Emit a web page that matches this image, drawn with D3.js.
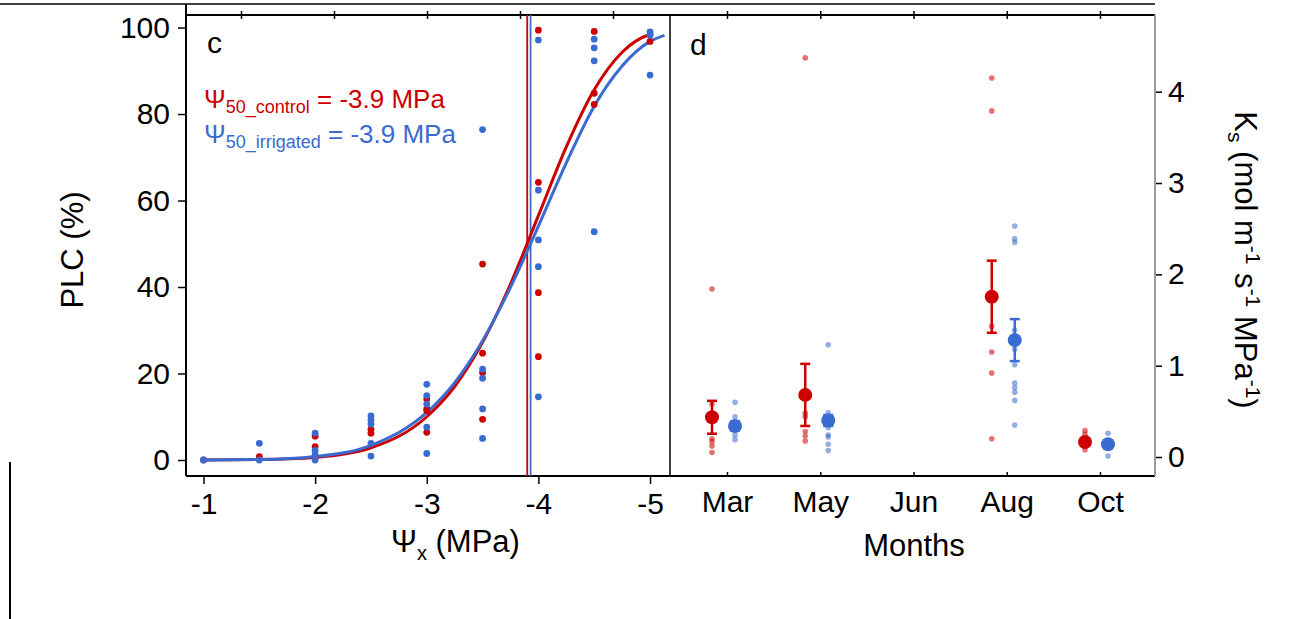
<!DOCTYPE html>
<html>
<head>
<meta charset="utf-8">
<script src="https://cdn.jsdelivr.net/npm/d3@7"></script>
<style>
  body { margin: 0; background: #fff; }
  text { font-family: "Liberation Sans", Arial, sans-serif; }
</style>
</head>
<body>
<script>
// ---- Panel c data: PLC (%) vs xylem water potential (MPa)
var controlPoints = [
    [-1, 0], [-1.5, 0.8],
    [-2, 5.5], [-2, 3.1], [-2, 0.8],
    [-2.5, 7.1], [-2.5, 6.2],
    [-3, 14.1], [-3, 11.8], [-3, 11.4], [-3, 6.4],
    [-3.5, 45.3], [-3.5, 24.7], [-3.5, 20.2], [-3.5, 9.4],
    [-4, 99.4], [-4, 64.2], [-4, 38.7], [-4, 23.9],
    [-4.5, 99.1], [-4.5, 84.8], [-4.5, 82.2],
    [-5, 96.8]
];
var irrigatedPoints = [
    [-1, 0], [-1.5, 3.85], [-1.5, 0],
    [-2, 6.2], [-2, 2.2], [-2, 1.2], [-2, 0],
    [-2.5, 10.2], [-2.5, 9.2], [-2.5, 8.3], [-2.5, 3.85], [-2.5, 0.9],
    [-3, 17.5], [-3, 14.9], [-3, 12.9], [-3, 7.6], [-3, 1.5],
    [-3.5, 76.4], [-3.5, 21.0], [-3.5, 18.9], [-3.5, 11.8], [-3.5, 5.0],
    [-4, 97.1], [-4, 62.4], [-4, 50.9], [-4, 44.7], [-4, 14.6],
    [-4.5, 97.3], [-4.5, 95.3], [-4.5, 92.3], [-4.5, 52.8],
    [-5, 99.0], [-5, 98.2], [-5, 89.0]
];
// fitted curves
var controlFit = [
    [-1, 0], [-1.5, 0.1], [-2, 0.6], [-2.5, 2.8], [-3, 10.0], [-3.25, 17.0],
    [-3.5, 27.2], [-3.75, 40.7], [-4, 56.5], [-4.25, 72.4], [-4.5, 85.6],
    [-4.75, 94.3], [-5, 98.4], [-5.03, 98.6]
];
var irrigatedFit = [
    [-1, 0], [-1.5, 0.1], [-2, 0.8], [-2.5, 3.4], [-3, 11.0], [-3.25, 17.9],
    [-3.5, 27.6], [-3.75, 39.9], [-4, 54.1], [-4.25, 68.7], [-4.5, 81.8],
    [-4.75, 91.1], [-5, 96.8], [-5.13, 98.2]
];
var p50Control = -3.9;
var p50Irrigated = -3.93;
var psiTicks = [-1, -2, -3, -4, -5];
var plcTicks = [0, 20, 40, 60, 80, 100];

// ---- Panel d data: Ks by month
var months = ['Mar', 'May', 'Jun', 'Aug', 'Oct'];
var ksControlPoints = [
    [1.84, 0.58, 0.2, 0.17, 0.12, 0.05],
    [4.37, 0.48, 0.44, 0.28, 0.23, 0.175],
    [],
    [4.15, 3.79, 1.43, 1.15, 0.92, 0.20],
    [0.29, 0.25, 0.12, 0.08]
];
var ksControlMean = [0.435, 0.68, null, 1.755, 0.165];
var ksControlSe = [0.18, 0.34, null, 0.395, 0.03];
var ksIrrigatedPoints = [
    [0.60, 0.44, 0.38, 0.30, 0.24, 0.19],
    [1.23, 0.485, 0.32, 0.24, 0.22, 0.14, 0.07],
    [],
    [2.53, 2.39, 2.35, 1.39, 1.18, 1.01, 0.81, 0.76, 0.71, 0.62, 0.35],
    [0.26, 0.15, 0.12, 0.01]
];
var ksIrrigatedMean = [0.34, 0.40, null, 1.28, 0.14];
var ksIrrigatedSe = [0.05, 0.06, null, 0.23, 0.04];
var ksTicks = [0, 1, 2, 3, 4];

function makeChart() {

    var red = '#cc0000';
    var blue = '#3a6bd0';
    var font = '"Liberation Sans", Arial, sans-serif';

    var svg = d3.select('body')
        .append('svg')
        .attr('width', 1301)
        .attr('height', 619);

    // layout
    var plotTop = 15, plotBottom = 476;
    var cLeft = 186, cRight = 670, dRight = 1155;

    // scales
    var xPsi = d3.scaleLinear().domain([-0.843, -5.179]).range([cLeft, cRight]);
    var yPlc = d3.scaleLinear().domain([-3.7, 102.9]).range([plotBottom, plotTop]);
    var xMonth = d3.scalePoint().domain(months).range([727, 1100]);
    var xMonthTop = d3.scalePoint().domain(months).range([241, 613]);
    var yKs = d3.scaleLinear().domain([-0.208, 4.84]).range([plotBottom, plotTop]);

    function styleAxis(g, size) {
        g.attr('font-family', font).attr('font-size', size);
        g.select('.domain').remove();
        g.selectAll('.tick line').attr('stroke', '#000').attr('stroke-width', 1.5);
        g.selectAll('.tick text').attr('fill', '#000');
    }

    function frameLine(x1, y1, x2, y2, color, w) {
        svg.append('line')
            .attr('x1', x1).attr('y1', y1).attr('x2', x2).attr('y2', y2)
            .attr('stroke', color).attr('stroke-width', w);
    }

    // bits of the neighbouring panels
    frameLine(0, 4, dRight, 4, '#000', 1.5);
    frameLine(10, 462, 10, 619, '#000', 2);

    // top ticks belong to the panels above
    svg.append('g').attr('transform', 'translate(0,11)')
        .call(d3.axisBottom(xMonthTop).tickSize(8).tickFormat(''))
        .call(styleAxis, 10);
    svg.append('g').attr('transform', 'translate(0,11)')
        .call(d3.axisBottom(xMonth).tickSize(8).tickFormat(''))
        .call(styleAxis, 10);

    // ---- panel c axes
    svg.append('g')
        .attr('transform', `translate(${cLeft},0)`)
        .call(d3.axisLeft(yPlc).tickValues(plcTicks).tickSize(8).tickPadding(8))
        .call(styleAxis, 30);

    svg.append('g')
        .attr('transform', `translate(0,${plotBottom})`)
        .call(d3.axisBottom(xPsi).tickValues(psiTicks).tickSize(8).tickPadding(9)
            .tickFormat(d => String(d)))
        .call(styleAxis, 30);

    // ---- panel d axes
    svg.append('g')
        .attr('transform', `translate(0,${plotBottom})`)
        .call(d3.axisBottom(xMonth).tickSize(-4).tickPadding(15))
        .call(styleAxis, 30);

    svg.append('g')
        .attr('transform', `translate(${dRight},0)`)
        .call(d3.axisRight(yKs).tickValues(ksTicks).tickSize(7).tickPadding(6)
            .tickFormat(d => String(d)))
        .call(styleAxis, 30);

    frameLine(cLeft, plotTop, dRight, plotTop, '#000', 2);
    frameLine(cLeft, 4, cLeft, plotBottom, '#000', 2);
    frameLine(cLeft, plotBottom, dRight, plotBottom, '#000', 2);
    frameLine(cRight, plotTop, cRight, plotBottom, '#000', 1.5);
    frameLine(dRight, plotTop, dRight, plotBottom, '#9a9a9a', 2);

    // ---- panel c: P50 lines
    svg.append('line')
        .attr('x1', xPsi(p50Control)).attr('x2', xPsi(p50Control))
        .attr('y1', plotTop).attr('y2', plotBottom)
        .attr('stroke', red).attr('stroke-width', 1.8);
    svg.append('line')
        .attr('x1', xPsi(p50Irrigated)).attr('x2', xPsi(p50Irrigated))
        .attr('y1', plotTop).attr('y2', plotBottom)
        .attr('stroke', blue).attr('stroke-width', 1.8);

    // fitted curves
    var fitLine = d3.line()
        .x(d => xPsi(d[0]))
        .y(d => yPlc(d[1]))
        .curve(d3.curveMonotoneX);

    svg.append('path').datum(controlFit)
        .attr('d', fitLine).attr('fill', 'none')
        .attr('stroke', red).attr('stroke-width', 3);
    svg.append('path').datum(irrigatedFit)
        .attr('d', fitLine).attr('fill', 'none')
        .attr('stroke', blue).attr('stroke-width', 3);

    // raw points
    svg.append('g').selectAll('circle')
        .data(controlPoints)
        .enter()
        .append('circle')
        .attr('cx', d => xPsi(d[0]))
        .attr('cy', d => yPlc(d[1]))
        .attr('r', 3.4)
        .attr('fill', red);

    svg.append('g').selectAll('circle')
        .data(irrigatedPoints)
        .enter()
        .append('circle')
        .attr('cx', d => xPsi(d[0]))
        .attr('cy', d => yPlc(d[1]))
        .attr('r', 3.4)
        .attr('fill', blue);

    // panel letters and P50 annotations
    svg.append('text').attr('x', 207).attr('y', 53)
        .attr('font-size', 30).attr('fill', '#000').text('c');
    svg.append('text').attr('x', 690).attr('y', 55)
        .attr('font-size', 30).attr('fill', '#000').text('d');

    function p50Label(y, color, sub, value) {
        var t = svg.append('text')
            .attr('x', 204).attr('y', y)
            .attr('font-size', 26).attr('fill', color);
        t.append('tspan').text('Ψ');
        t.append('tspan').attr('font-size', 18).attr('dy', 5).text(sub);
        t.append('tspan').attr('dy', -5).text(' = ' + value.toFixed(1) + ' MPa');
    }
    p50Label(108, red, '50_control', p50Control);
    p50Label(143, blue, '50_irrigated', p50Irrigated);

    // axis titles
    var psiTitle = svg.append('text')
        .attr('x', 391).attr('y', 552)
        .attr('font-size', 31).attr('fill', '#000');
    psiTitle.append('tspan').text('Ψ');
    psiTitle.append('tspan').attr('font-size', 20).attr('dy', 8).text('x');
    psiTitle.append('tspan').attr('dy', -8).text(' (MPa)');

    svg.append('text')
        .attr('transform', 'translate(83,250) rotate(-90)')
        .attr('text-anchor', 'middle')
        .attr('font-size', 31).attr('fill', '#000')
        .text('PLC (%)');

    svg.append('text')
        .attr('x', 914).attr('y', 556)
        .attr('text-anchor', 'middle')
        .attr('font-size', 31).attr('fill', '#000')
        .text('Months');

    var ksTitle = svg.append('text')
        .attr('transform', 'translate(1235,260) rotate(90)')
        .attr('text-anchor', 'middle')
        .attr('font-size', 31).attr('fill', '#000');
    ksTitle.append('tspan').text('K');
    ksTitle.append('tspan').attr('font-size', 21).attr('dy', 7).text('s');
    ksTitle.append('tspan').attr('dy', -7).text(' (mol m');
    ksTitle.append('tspan').attr('font-size', 21).attr('dy', -11).text('-1');
    ksTitle.append('tspan').attr('dy', 11).text(' s');
    ksTitle.append('tspan').attr('font-size', 21).attr('dy', -11).text('-1');
    ksTitle.append('tspan').attr('dy', 11).text(' MPa');
    ksTitle.append('tspan').attr('font-size', 21).attr('dy', -11).text('-1');
    ksTitle.append('tspan').attr('dy', 11).text(')');

    // ---- panel d: points, means and error bars
    function drawGroup(points, means, se, color, offset) {
        var flat = [];
        points.forEach(function (vals, i) {
            vals.forEach(function (v) { flat.push({ month: months[i], v: v }); });
        });

        svg.append('g').selectAll('circle')
            .data(flat)
            .enter()
            .append('circle')
            .attr('cx', d => xMonth(d.month) + offset)
            .attr('cy', d => yKs(d.v))
            .attr('r', 2.8)
            .attr('fill', color)
            .attr('opacity', 0.55);

        var summary = months.map(function (m, i) {
            return { month: m, mean: means[i], se: se[i] };
        }).filter(d => d.mean !== null);

        var bars = svg.append('g');
        summary.forEach(function (d) {
            var x = xMonth(d.month) + offset;
            var y1 = yKs(d.mean + d.se), y2 = yKs(d.mean - d.se);
            bars.append('line').attr('x1', x).attr('x2', x).attr('y1', y1).attr('y2', y2)
                .attr('stroke', color).attr('stroke-width', 2.5);
            bars.append('line').attr('x1', x - 5).attr('x2', x + 5).attr('y1', y1).attr('y2', y1)
                .attr('stroke', color).attr('stroke-width', 2.5);
            bars.append('line').attr('x1', x - 5).attr('x2', x + 5).attr('y1', y2).attr('y2', y2)
                .attr('stroke', color).attr('stroke-width', 2.5);
        });

        svg.append('g').selectAll('circle')
            .data(summary)
            .enter()
            .append('circle')
            .attr('cx', d => xMonth(d.month) + offset)
            .attr('cy', d => yKs(d.mean))
            .attr('r', 7)
            .attr('fill', color);
    }

    drawGroup(ksControlPoints, ksControlMean, ksControlSe, red, -15);
    drawGroup(ksIrrigatedPoints, ksIrrigatedMean, ksIrrigatedSe, blue, 8);
}

makeChart();
</script>
</body>
</html>
